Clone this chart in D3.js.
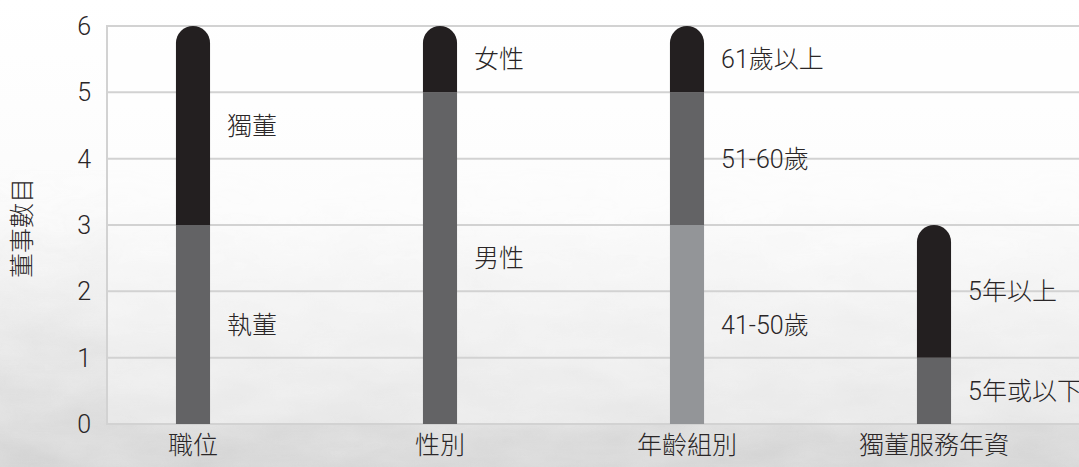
<!DOCTYPE html>
<html>
<head>
<meta charset="utf-8">
<script src="https://cdn.jsdelivr.net/npm/d3@7.9.0/dist/d3.min.js"></script>
<style>
  html, body { margin: 0; padding: 0; background: #fff; }
  svg { display: block; }
  text { font-family: "Roboto", "Noto Sans CJK TC", sans-serif; font-weight: 300; fill: #2a2627; }
</style>
</head>
<body>
<svg id="chart" width="1079" height="467"></svg>
<script>
// categories and stacked segments (bottom to top)
const categories = ['職位', '性別', '年齡組別', '獨董服務年資'];
const segLabels = [
    ['執董', '獨董'],
    ['男性', '女性'],
    ['41-50歲', '51-60歲', '61歲以上'],
    ['5年或以下', '5年以上']
];
const segValues = [
    [3, 3],
    [5, 1],
    [3, 2, 1],
    [1, 2]
];
const segColors = [
    ['#636365', '#231f20'],
    ['#636365', '#231f20'],
    ['#939598', '#636365', '#231f20'],
    ['#636365', '#231f20']
];
const yTicks = [0, 1, 2, 3, 4, 5, 6];
const yTitle = '董事數目';

const W = 1079, H = 467;
const plotLeft = 107, plotRight = 1079, plotTop = 26, plotBottom = 424;
const fs = 25;

const svg = d3.select('#chart');

// soft background: white fading to a grey, textured bottom
const defs = svg.append('defs');
const grad = defs.append('linearGradient').attr('id', 'bg').attr('x1', 0).attr('y1', 0).attr('x2', 0).attr('y2', 1);
grad.append('stop').attr('offset', '0%').attr('stop-color', '#ffffff');
grad.append('stop').attr('offset', '45%').attr('stop-color', '#fbfbfb');
grad.append('stop').attr('offset', '75%').attr('stop-color', '#ececec');
grad.append('stop').attr('offset', '100%').attr('stop-color', '#dedede');

const fade = defs.append('linearGradient').attr('id', 'fade').attr('x1', 0).attr('y1', 0).attr('x2', 0).attr('y2', 1);
fade.append('stop').attr('offset', '35%').attr('stop-color', '#000');
fade.append('stop').attr('offset', '100%').attr('stop-color', '#fff');
defs.append('mask').attr('id', 'fadeMask')
    .append('rect').attr('width', W).attr('height', H).attr('fill', 'url(#fade)');

const noise = defs.append('filter').attr('id', 'noise').attr('x', 0).attr('y', 0).attr('width', '100%').attr('height', '100%');
noise.append('feTurbulence').attr('type', 'fractalNoise').attr('baseFrequency', '0.012 0.03').attr('numOctaves', 4).attr('seed', 3);
noise.append('feColorMatrix').attr('type', 'matrix')
    .attr('values', '0 0 0 0 0.5  0 0 0 0 0.5  0 0 0 0 0.5  0 0 0 0.6 -0.1');

svg.append('rect').attr('width', W).attr('height', H).attr('fill', 'url(#bg)');
svg.append('rect').attr('width', W).attr('height', H)
    .attr('filter', 'url(#noise)').attr('mask', 'url(#fadeMask)').attr('opacity', 0.7);

// plot area is slightly lighter than the surroundings
svg.append('rect')
    .attr('x', plotLeft).attr('y', plotTop)
    .attr('width', plotRight - plotLeft).attr('height', plotBottom - plotTop)
    .attr('fill', '#fff').attr('opacity', 0.35);

const y = d3.scaleLinear().domain([0, 6]).range([plotBottom, plotTop]);
const step = 247;
const x = d3.scaleBand()
    .domain(categories)
    .range([193 - step / 2, 193 - step / 2 + step * categories.length])
    .paddingInner(0.862)
    .paddingOuter(0.431);

// gridlines
svg.append('g')
    .selectAll('line')
    .data(yTicks)
    .join('line')
    .attr('x1', plotLeft).attr('x2', plotRight)
    .attr('y1', d => y(d)).attr('y2', d => y(d))
    .attr('stroke', '#d2d2d2').attr('stroke-width', 2);

svg.append('line')
    .attr('x1', plotLeft).attr('x2', plotLeft)
    .attr('y1', y(6) - 1).attr('y2', y(0) + 1)
    .attr('stroke', '#d2d2d2').attr('stroke-width', 2);

// y axis labels
svg.append('g')
    .selectAll('text')
    .data(yTicks)
    .join('text')
    .attr('x', 91)
    .attr('y', d => y(d))
    .attr('dy', '0.36em')
    .attr('text-anchor', 'end')
    .attr('font-size', fs)
    .text(d => d);

svg.append('text')
    .attr('transform', `translate(22, ${(plotTop + plotBottom) / 2 + 3}) rotate(-90)`)
    .attr('text-anchor', 'middle')
    .attr('dy', '0.36em')
    .attr('font-size', fs)
    .text(yTitle);

// bars
const bw = x.bandwidth();
const r = bw / 2;
categories.forEach((cat, i) => {
    const vals = segValues[i];
    const x0 = x(cat);
    let base = 0;
    vals.forEach((v, j) => {
        const top = base + v;
        const yb = y(base), yt = y(top);
        const last = j === vals.length - 1;
        let d;
        if (last) {
            d = `M${x0},${yb}V${yt + r}A${r},${r} 0 0 1 ${x0 + bw},${yt + r}V${yb}Z`;
        } else {
            d = `M${x0},${yb}V${yt}H${x0 + bw}V${yb}Z`;
        }
        svg.append('path').attr('d', d).attr('fill', segColors[i][j]);

        svg.append('text')
            .attr('x', x0 + bw + 17)
            .attr('y', y((base + top) / 2))
            .attr('dy', '0.36em')
            .attr('font-size', fs)
            .text(segLabels[i][j]);
        base = top;
    });

    svg.append('text')
        .attr('x', x0 + bw / 2)
        .attr('y', 445)
        .attr('dy', '0.36em')
        .attr('text-anchor', 'middle')
        .attr('font-size', fs)
        .text(cat);
});
</script>
</body>
</html>
